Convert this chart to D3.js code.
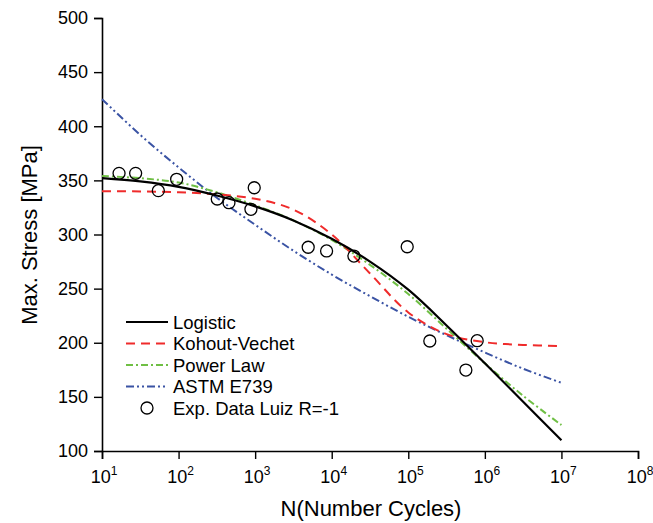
<!DOCTYPE html>
<html><head><meta charset="utf-8">
<script src="https://cdn.jsdelivr.net/npm/d3@7"></script>
<style>
body{margin:0;background:#fff;}
svg{display:block;font-family:"Liberation Sans",Arial,sans-serif;}
</style></head>
<body><svg id="c" width="653" height="523"></svg>
<script>
// ---- data ----
const curveN = [10, 31.6, 100, 316, 1000, 3162, 10000, 31623, 100000, 316228, 1000000, 3162278, 10000000];
const logisticS = [352, 349, 344, 336, 326, 313, 296, 275, 249, 216, 181, 145.5, 110];
const kohoutS   = [340, 339.8, 339, 337, 333, 323, 300, 264, 228, 208, 200.5, 198, 197];
const powerS    = [354, 352, 348, 339, 327, 313, 295, 272, 245, 213, 181, 151, 124];
const astmS     = [425, 392, 362, 334, 309, 285, 263, 243, 224, 207, 191, 176, 163];
const expN = [16.7, 27.5, 54.4, 94.4, 320, 455, 881, 973, 4930, 8570, 19500, 96800, 191000, 565000, 794000];
const expS = [356.5, 356.5, 340.5, 351, 332.8, 329.4, 323.3, 343.2, 288.2, 284.8, 280.1, 288.7, 201.6, 174.8, 201.9];
const xMajor = [1e1, 1e2, 1e3, 1e4, 1e5, 1e6, 1e7, 1e8];
const xExp = [1, 2, 3, 4, 5, 6, 7, 8];
const yMajor = [100, 150, 200, 250, 300, 350, 400, 450, 500];
const yMinor = [125, 175, 225, 275, 325, 375, 425, 475];
const seriesNames = ["Logistic", "Kohout-Vechet", "Power Law", "ASTM E739"];
const expName = "Exp. Data Luiz R=-1";

// ---- layout ----
const L = 102, R = 638, T = 18, B = 451;
const svg = d3.select("#c");
const x = d3.scaleLog().domain([1e1, 1e8]).range([L, R]);
const y = d3.scaleLinear().domain([100, 500]).range([B, T]);

const xMinor = [];
for (let e = 1; e < 8; e++) for (let k = 2; k <= 9; k++) xMinor.push(k * Math.pow(10, e));

// y axis
const gy = svg.append("g").attr("transform", `translate(${L},0)`);
gy.call(d3.axisLeft(y).tickValues(yMinor).tickSize(4).tickFormat(""));
gy.call(d3.axisLeft(y).tickValues(yMajor).tickSize(8).tickPadding(6).tickFormat(d3.format("d")));
gy.selectAll("path.domain").attr("stroke", "#000").attr("stroke-width", 1.6);
gy.selectAll(".tick line").attr("stroke", "#000").attr("stroke-width", 1.4);
gy.selectAll(".tick text").attr("font-size", 18).attr("fill", "#000")
  .attr("font-family", "'Liberation Sans',Arial,sans-serif");

// x axis
const gx = svg.append("g").attr("transform", `translate(0,${B})`);
gx.call(d3.axisBottom(x).tickValues(xMinor).tickSize(6).tickFormat(""));
gx.call(d3.axisBottom(x).tickValues(xMajor).tickSize(8).tickFormat(""));
gx.selectAll("path.domain").attr("stroke", "#000").attr("stroke-width", 1.6);
gx.selectAll(".tick line").attr("stroke", "#000").attr("stroke-width", 1.4);

// x labels with superscripts
xMajor.forEach((v, i) => {
  const t = svg.append("text").attr("x", x(v) + 2).attr("y", B + 32)
    .attr("text-anchor", "middle").attr("font-size", 18).attr("fill", "#000");
  t.append("tspan").text("10");
  t.append("tspan").attr("font-size", 12).attr("dy", -8).text(xExp[i]);
});

// axis titles
svg.append("text").attr("x", 371).attr("y", 516).attr("text-anchor", "middle")
  .attr("font-size", 22).attr("fill", "#000").text("N(Number Cycles)");
svg.append("text").attr("transform", `translate(37,235) rotate(-90)`)
  .attr("text-anchor", "middle").attr("font-size", 22).attr("fill", "#000").text("Max. Stress [MPa]");

// curves
const styles = [
  {data: logisticS, color: "#000000", dash: null, w: 2.2},
  {data: kohoutS, color: "#ef2b2b", dash: "9,6", w: 2},
  {data: powerS, color: "#6fbf44", dash: "7,3,2,3", w: 2},
  {data: astmS, color: "#3a53a4", dash: "8,3,2,3,2,3", w: 2}
];
const line = d3.line().x(d => x(d[0])).y(d => y(d[1])).curve(d3.curveCatmullRom.alpha(0.5));
// draw order: blue, green, red, black on top
[3, 2, 1, 0].forEach(i => {
  const s = styles[i];
  svg.append("path").datum(curveN.map((n, j) => [n, s.data[j]]))
    .attr("d", line).attr("fill", "none").attr("stroke", s.color)
    .attr("stroke-width", s.w).attr("stroke-dasharray", s.dash);
});

// experimental points
svg.append("g").selectAll("circle").data(expN.map((n, i) => [n, expS[i]])).join("circle")
  .attr("cx", d => x(d[0])).attr("cy", d => y(d[1])).attr("r", 6)
  .attr("fill", "none").attr("stroke", "#000").attr("stroke-width", 1.3);

// legend
const lg = svg.append("g");
const rowY = [322, 343.5, 365, 386.5, 408];
styles.forEach((s, i) => {
  lg.append("line").attr("x1", 126).attr("x2", 168).attr("y1", rowY[i]).attr("y2", rowY[i])
    .attr("stroke", s.color).attr("stroke-width", s.w).attr("stroke-dasharray", s.dash);
  lg.append("text").attr("x", 173).attr("y", rowY[i] + 6.5).attr("font-size", 18.5).attr("fill", "#000")
    .text(seriesNames[i]);
});
lg.append("circle").attr("cx", 147).attr("cy", rowY[4]).attr("r", 6)
  .attr("fill", "none").attr("stroke", "#000").attr("stroke-width", 1.3);
lg.append("text").attr("x", 173).attr("y", rowY[4] + 6.5).attr("font-size", 18.5).attr("fill", "#000")
  .text(expName);
</script></body></html>
